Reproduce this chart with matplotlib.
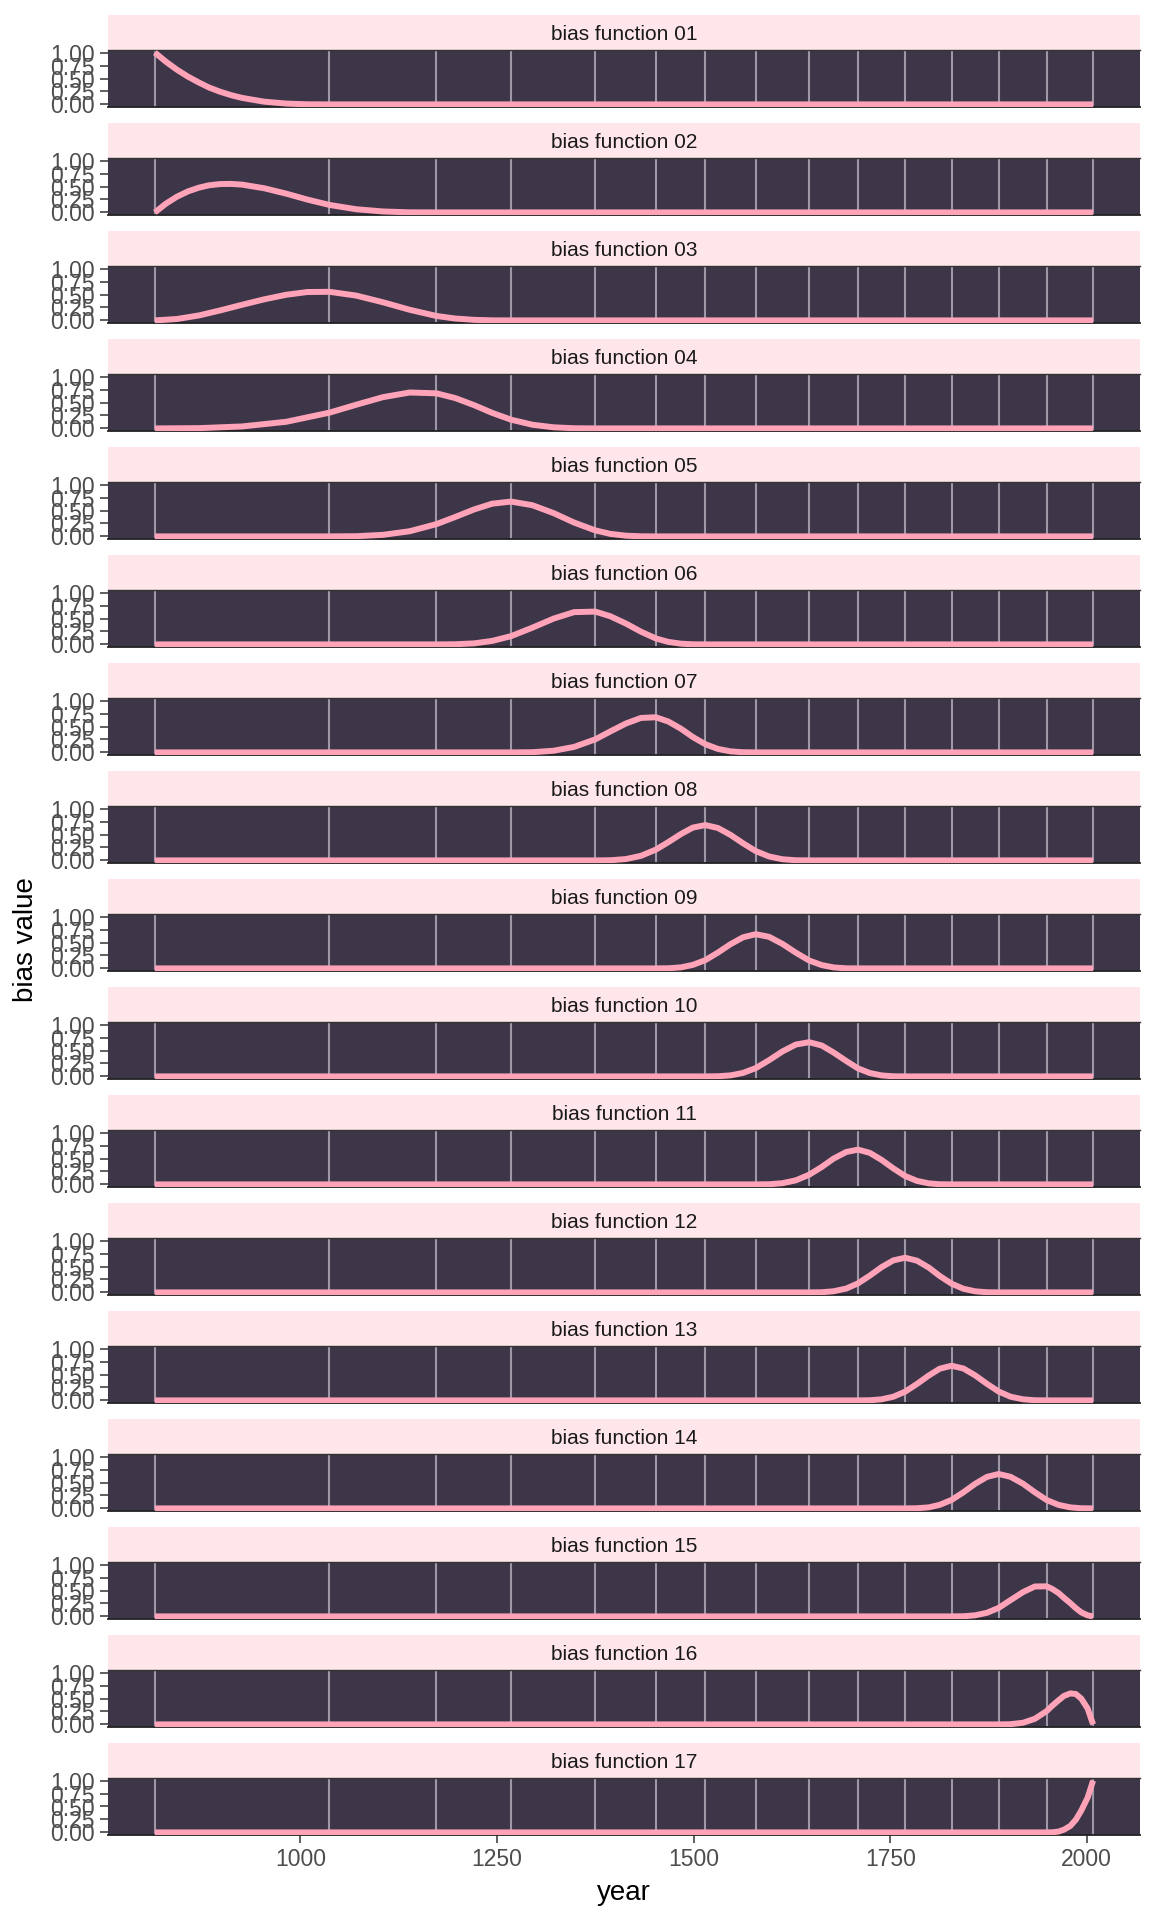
import matplotlib
matplotlib.use('Agg')
import matplotlib.pyplot as plt
from matplotlib.patches import Rectangle

plt.rcParams['font.family'] = ['Liberation Sans', 'DejaVu Sans']

# ── Data ─────────────────────────────────────────────────────────────────────
# grey vertical lines = spline knots
KNOT_YEARS = [815, 1037, 1173, 1268, 1375, 1452, 1515, 1579, 1647,
              1709, 1769, 1828, 1888, 1949, 2008]
X_TICKS = [1000, 1250, 1500, 1750, 2000]
Y_TICKS = [0.0, 0.25, 0.5, 0.75, 1.0]
Y_TICK_LABELS = ['0.00', '0.25', '0.50', '0.75', '1.00']

PANEL_LABELS = ['bias function 01', 'bias function 02', 'bias function 03',
                'bias function 04', 'bias function 05', 'bias function 06',
                'bias function 07', 'bias function 08', 'bias function 09',
                'bias function 10', 'bias function 11', 'bias function 12',
                'bias function 13', 'bias function 14', 'bias function 15',
                'bias function 16', 'bias function 17']

bf01_year  = [815, 829, 843, 857, 871, 884, 898, 912, 926, 954, 982, 1009, 1037, 2008]
bf01_value = [1.0, 0.824, 0.670, 0.536, 0.422, 0.325, 0.244, 0.178, 0.125, 0.053, 0.016,
              0.002, 0.0, 0.0]

bf02_year  = [815, 829, 843, 857, 871, 884, 898, 912, 926, 954, 982, 1009, 1037, 1071,
              1105, 1139, 1173, 2008]
bf02_value = [0.0, 0.169, 0.303, 0.405, 0.478, 0.524, 0.547, 0.550, 0.536, 0.466, 0.362,
              0.247, 0.144, 0.061, 0.018, 0.002, 0.0, 0.0]

bf03_year  = [815, 843, 871, 898, 926, 954, 982, 1009, 1037, 1071, 1105, 1139, 1173,
              1197, 1221, 1244, 1268, 2008]
bf03_value = [0.0, 0.027, 0.096, 0.193, 0.302, 0.407, 0.495, 0.548, 0.552, 0.479, 0.350,
              0.205, 0.086, 0.036, 0.011, 0.001, 0.0, 0.0]

bf04_year  = [815, 871, 926, 982, 1037, 1071, 1105, 1139, 1173, 1197, 1221, 1244, 1268,
              1295, 1322, 1348, 1375, 2008]
bf04_value = [0.0, 0.005, 0.038, 0.128, 0.304, 0.457, 0.603, 0.693, 0.677, 0.585, 0.448,
              0.299, 0.168, 0.071, 0.021, 0.003, 0.0, 0.0]

bf05_year  = [815, 1037, 1071, 1105, 1139, 1173, 1197, 1221, 1244, 1268, 1295, 1322, 1348,
              1375, 1394, 1414, 1433, 1452, 2008]
bf05_value = [0.0, 0.0, 0.004, 0.030, 0.100, 0.237, 0.376, 0.521, 0.632, 0.672, 0.602, 0.449,
              0.268, 0.116, 0.049, 0.014, 0.002, 0.0, 0.0]

bf06_year  = [815, 1173, 1197, 1221, 1244, 1268, 1295, 1322, 1348, 1375, 1394, 1414, 1433,
              1452, 1468, 1484, 1499, 1515, 2008]
bf06_value = [0.0, 0.0, 0.003, 0.020, 0.068, 0.160, 0.323, 0.498, 0.623, 0.633, 0.544, 0.402,
              0.246, 0.115, 0.048, 0.014, 0.002, 0.0, 0.0]

bf07_year  = [815, 1268, 1295, 1322, 1348, 1375, 1394, 1414, 1433, 1452, 1468, 1484, 1499,
              1515, 1531, 1547, 1563, 1579, 2008]
bf07_value = [0.0, 0.0, 0.004, 0.032, 0.106, 0.252, 0.404, 0.558, 0.665, 0.678, 0.595, 0.456,
              0.297, 0.158, 0.067, 0.020, 0.003, 0.0, 0.0]

bf08_year  = [815, 1375, 1394, 1414, 1433, 1452, 1468, 1484, 1499, 1515, 1531, 1547, 1563,
              1579, 1596, 1613, 1630, 1647, 2008]
bf08_value = [0.0, 0.0, 0.003, 0.026, 0.088, 0.208, 0.354, 0.510, 0.633, 0.682, 0.625, 0.492,
              0.329, 0.180, 0.076, 0.022, 0.003, 0.0, 0.0]

bf09_year  = [815, 1452, 1468, 1484, 1499, 1515, 1531, 1547, 1563, 1579, 1596, 1613, 1630,
              1647, 1663, 1678, 1694, 1709, 2008]
bf09_value = [0.0, 0.0, 0.003, 0.020, 0.068, 0.160, 0.306, 0.468, 0.601, 0.660, 0.609, 0.473,
              0.304, 0.152, 0.064, 0.019, 0.002, 0.0, 0.0]

bf10_year  = [815, 1515, 1531, 1547, 1563, 1579, 1596, 1613, 1630, 1647, 1663, 1678, 1694,
              1709, 1724, 1739, 1754, 1769, 2008]
bf10_value = [0.0, 0.0, 0.003, 0.020, 0.068, 0.160, 0.313, 0.482, 0.615, 0.660, 0.596, 0.461,
              0.299, 0.155, 0.066, 0.019, 0.002, 0.0, 0.0]

bf11_year  = [815, 1579, 1596, 1613, 1630, 1647, 1663, 1678, 1694, 1709, 1724, 1739, 1754,
              1769, 1784, 1799, 1813, 1828, 2008]
bf11_value = [0.0, 0.0, 0.003, 0.023, 0.079, 0.187, 0.337, 0.498, 0.625, 0.671, 0.609, 0.473,
              0.309, 0.162, 0.068, 0.020, 0.003, 0.0, 0.0]

bf12_year  = [815, 1647, 1663, 1678, 1694, 1709, 1724, 1739, 1754, 1769, 1784, 1799, 1813,
              1828, 1843, 1858, 1873, 1888, 2008]
bf12_value = [0.0, 0.0, 0.003, 0.022, 0.074, 0.174, 0.323, 0.487, 0.618, 0.669, 0.613, 0.480,
              0.317, 0.169, 0.071, 0.021, 0.003, 0.0, 0.0]

bf13_year  = [815, 1709, 1724, 1739, 1754, 1769, 1784, 1799, 1813, 1828, 1843, 1858, 1873,
              1888, 1903, 1919, 1934, 1949, 2008]
bf13_value = [0.0, 0.0, 0.003, 0.021, 0.071, 0.169, 0.317, 0.480, 0.612, 0.669, 0.616, 0.484,
              0.320, 0.171, 0.072, 0.021, 0.003, 0.0, 0.0]

bf14_year  = [815, 1769, 1784, 1799, 1813, 1828, 1843, 1858, 1873, 1888, 1903, 1919, 1934,
              1949, 1964, 1979, 1993, 2008]
bf14_value = [0.0, 0.0, 0.003, 0.020, 0.069, 0.163, 0.310, 0.474, 0.608, 0.664, 0.610, 0.476,
              0.311, 0.161, 0.068, 0.020, 0.003, 0.0]

bf15_year  = [815, 1828, 1843, 1858, 1873, 1888, 1903, 1919, 1934, 1949, 1956, 1964, 1971,
              1979, 1986, 1993, 2001, 2008]
bf15_value = [0.0, 0.0, 0.003, 0.021, 0.070, 0.165, 0.314, 0.470, 0.578, 0.580, 0.530, 0.452,
              0.358, 0.257, 0.160, 0.078, 0.021, 0.0]

bf16_year  = [815, 1888, 1903, 1919, 1934, 1949, 1956, 1964, 1971, 1979, 1986, 1993, 2001, 2008]
bf16_value = [0.0, 0.0, 0.004, 0.032, 0.109, 0.258, 0.360, 0.464, 0.550, 0.598, 0.587, 0.497,
              0.309, 0.0]

bf17_year  = [815, 1949, 1956, 1964, 1971, 1979, 1986, 1993, 2001, 2008]
bf17_value = [0.0, 0.0, 0.002, 0.016, 0.053, 0.125, 0.244, 0.422, 0.670, 1.0]

BIAS_YEARS = [bf01_year, bf02_year, bf03_year, bf04_year, bf05_year, bf06_year,
              bf07_year, bf08_year, bf09_year, bf10_year, bf11_year, bf12_year,
              bf13_year, bf14_year, bf15_year, bf16_year, bf17_year]
BIAS_VALUES = [bf01_value, bf02_value, bf03_value, bf04_value, bf05_value, bf06_value,
               bf07_value, bf08_value, bf09_value, bf10_value, bf11_value, bf12_value,
               bf13_value, bf14_value, bf15_value, bf16_value, bf17_value]

# ── Style ────────────────────────────────────────────────────────────────────
PANEL_BG  = '#3D3548'
STRIP_BG  = '#FFE6EA'
LINE_CLR  = '#FFA3B8'
KNOT_CLR  = '#9E98A6'
TICK_CLR  = '#4D4D4D'

W, H = 1152, 1920          # pixels
LEFT, RIGHT = 108, 1140
FIRST_STRIP = 15
PERIOD = 108
STRIP_H = 35
PANEL_H = 57

# ggplot style 5% expansion around the data range
x_pad = (KNOT_YEARS[-1] - KNOT_YEARS[0]) * 0.05
XLIM = (KNOT_YEARS[0] - x_pad, KNOT_YEARS[-1] + x_pad)

fig = plt.figure(figsize=(W / 100, H / 100), dpi=100)
fig.patch.set_facecolor('white')

n = len(BIAS_VALUES)
for i in range(n):
    strip_top = FIRST_STRIP + i * PERIOD
    panel_top = strip_top + STRIP_H

    # strip
    fig.add_artist(Rectangle((LEFT / W, 1 - panel_top / H), (RIGHT - LEFT) / W, STRIP_H / H,
                             transform=fig.transFigure, facecolor=STRIP_BG,
                             edgecolor='none', zorder=0))
    fig.text((LEFT + RIGHT) / 2 / W, 1 - (strip_top + 25) / H, PANEL_LABELS[i],
             ha='center', va='baseline', fontsize=15, color='#1A1A1A')

    # panel
    ax = fig.add_axes([LEFT / W, 1 - (panel_top + PANEL_H) / H,
                       (RIGHT - LEFT) / W, PANEL_H / H])
    ax.set_facecolor(PANEL_BG)
    ax.set_xlim(*XLIM)
    ax.set_ylim(-0.05, 1.05)
    for k in KNOT_YEARS:
        ax.axvline(k, color=KNOT_CLR, linewidth=1.5, zorder=1)
    ax.plot(BIAS_YEARS[i], BIAS_VALUES[i], color=LINE_CLR, linewidth=4.3,
            solid_capstyle='butt', solid_joinstyle='round', zorder=3)

    ax.spines['left'].set_visible(False)
    ax.spines['right'].set_visible(False)
    ax.spines['top'].set_color('#333333')
    ax.spines['top'].set_linewidth(1.0)
    ax.spines['bottom'].set_color('#222222')
    ax.spines['bottom'].set_linewidth(1.3)

    ax.set_yticks(Y_TICKS)
    ax.set_yticklabels(Y_TICK_LABELS)
    ax.tick_params(axis='y', length=5.8, width=1.1, color='#333333',
                   labelsize=16.5, labelcolor=TICK_CLR, pad=3.5)
    if i == n - 1:
        ax.set_xticks(X_TICKS)
        ax.set_xticklabels([str(x) for x in X_TICKS])
        ax.tick_params(axis='x', length=5.8, width=1.1, color='#333333',
                       labelsize=16.5, labelcolor=TICK_CLR, pad=3.5)
    else:
        ax.set_xticks([])

fig.text((LEFT + RIGHT) / 2 / W, 1 - 1893 / H, 'year', ha='center', va='center',
         fontsize=20, color='black')
fig.text(26 / W, 1 - 940 / H, 'bias value', ha='center', va='center',
         rotation=90, fontsize=20, color='black')

fig.savefig('out.png', dpi=100)
